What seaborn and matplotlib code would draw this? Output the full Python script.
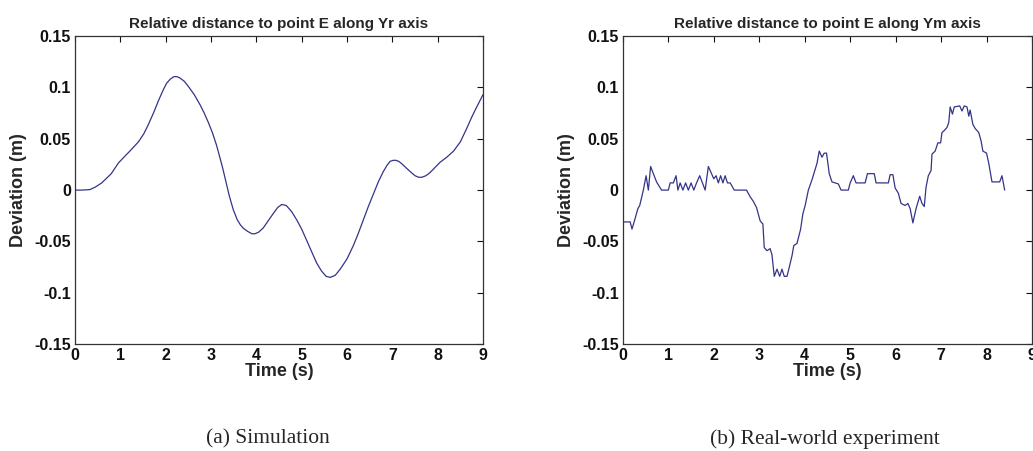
import matplotlib
matplotlib.use("Agg")
import matplotlib.pyplot as plt
import seaborn as sns
import pandas as pd

sns.set_style("white")
plt.rcParams['font.family'] = ['Liberation Sans', 'DejaVu Sans']

# ---- data ----
# (a) simulation: smooth curve
sim_t = [0.0, 0.15, 0.33, 0.45, 0.59, 0.8, 0.96, 1.10, 1.21, 1.40, 1.52, 1.62, 1.74,
         1.84, 1.94, 2.02, 2.10, 2.18, 2.25, 2.32, 2.41, 2.50, 2.63, 2.76, 2.85, 2.94,
         3.03, 3.12, 3.20, 3.26, 3.33, 3.40, 3.49, 3.58, 3.65, 3.71, 3.80, 3.90, 3.97,
         4.05, 4.15, 4.26, 4.37, 4.47, 4.56, 4.66, 4.78, 4.89, 5.00, 5.11, 5.22, 5.33,
         5.44, 5.54, 5.63, 5.74, 5.85, 6.00, 6.14, 6.25, 6.36, 6.47, 6.58, 6.69, 6.80,
         6.88, 6.95, 7.02, 7.08, 7.14, 7.20, 7.32, 7.42, 7.50, 7.58, 7.65, 7.74, 7.83,
         7.94, 8.05, 8.20, 8.35, 8.50, 8.64, 8.75, 8.85, 9.0]
sim_dev = [0.0, 0.0, 0.0005, 0.003, 0.007, 0.016, 0.0265, 0.033, 0.038, 0.047, 0.055,
           0.064, 0.076, 0.087, 0.097, 0.104, 0.108, 0.1105, 0.1105, 0.109, 0.106, 0.101,
           0.093, 0.083, 0.075, 0.066, 0.056, 0.044, 0.031, 0.021, 0.008, -0.005, -0.019,
           -0.029, -0.034, -0.037, -0.040, -0.0425, -0.0425, -0.041, -0.037, -0.030,
           -0.023, -0.017, -0.014, -0.015, -0.021, -0.029, -0.038, -0.049, -0.060,
           -0.071, -0.079, -0.084, -0.085, -0.083, -0.077, -0.067, -0.054, -0.042,
           -0.029, -0.016, -0.004, 0.008, 0.018, 0.024, 0.028, 0.029, 0.029, 0.028, 0.026,
           0.021, 0.017, 0.014, 0.0125, 0.0125, 0.014, 0.017, 0.022, 0.027, 0.032, 0.038,
           0.047, 0.060, 0.071, 0.080, 0.093]

# (b) real-world experiment: noisy, quantised signal
exp_t = [0.00, 0.16, 0.20, 0.26, 0.33, 0.37, 0.45, 0.51, 0.56, 0.61, 0.67, 0.74, 0.85,
         1.00, 1.04, 1.11, 1.17, 1.21, 1.26, 1.32, 1.38, 1.44, 1.50, 1.56, 1.62, 1.69,
         1.75, 1.81, 1.88, 1.95, 2.00, 2.05, 2.10, 2.15, 2.20, 2.25, 2.30, 2.36, 2.45,
         2.72, 2.80, 2.87, 2.94, 3.02, 3.08, 3.11, 3.17, 3.24, 3.28, 3.33, 3.39, 3.45,
         3.50, 3.55, 3.61, 3.65, 3.72, 3.76, 3.83, 3.91, 3.96, 4.01, 4.08, 4.16, 4.27,
         4.32, 4.38, 4.43, 4.48, 4.54, 4.60, 4.74, 4.80, 4.96, 5.00, 5.07, 5.13, 5.33,
         5.38, 5.53, 5.57, 5.84, 5.88, 5.94, 5.99, 6.06, 6.12, 6.21, 6.27, 6.32, 6.38,
         6.45, 6.53, 6.58, 6.63, 6.67, 6.72, 6.78, 6.80, 6.87, 6.93, 6.99, 7.02, 7.07,
         7.13, 7.17, 7.20, 7.25, 7.29, 7.41, 7.46, 7.51, 7.57, 7.61, 7.64, 7.70, 7.75,
         7.83, 7.88, 7.92, 8.00, 8.05, 8.12, 8.29, 8.34, 8.40]
exp_dev = [-0.031, -0.031, -0.038, -0.029, -0.018, -0.015, 0.0, 0.014, 0.0, 0.023, 0.016,
           0.008, 0.0, 0.0, 0.007, 0.007, 0.014, 0.0, 0.007, 0.0, 0.007, 0.0, 0.007, 0.0,
           0.007, 0.014, 0.007, 0.0, 0.023, 0.016, 0.011, 0.014, 0.007, 0.014, 0.007,
           0.014, 0.007, 0.007, 0.0, 0.0, -0.0065, -0.011, -0.017, -0.030, -0.033, -0.056,
           -0.059, -0.057, -0.063, -0.084, -0.077, -0.084, -0.077, -0.084, -0.084, -0.077,
           -0.064, -0.054, -0.052, -0.038, -0.023, -0.015, 0.0, 0.010, 0.026, 0.038, 0.032,
           0.036, 0.036, 0.016, 0.008, 0.006, 0.0, 0.0, 0.007, 0.014, 0.007, 0.007, 0.016,
           0.016, 0.007, 0.007, 0.015, 0.015, 0.002, -0.003, -0.013, -0.015, -0.013,
           -0.018, -0.032, -0.018, -0.006, -0.013, -0.016, 0.003, 0.014, 0.019, 0.035,
           0.038, 0.046, 0.046, 0.056, 0.058, 0.061, 0.066, 0.081, 0.074, 0.081, 0.082,
           0.077, 0.082, 0.081, 0.072, 0.078, 0.064, 0.060, 0.056, 0.048, 0.038, 0.036,
           0.026, 0.008, 0.008, 0.014, 0.0]

titles = ['Relative distance to point E along Yr axis',
          'Relative distance to point E along Ym axis']
captions = ['(a) Simulation', '(b) Real-world experiment']
xticks = [0, 1, 2, 3, 4, 5, 6, 7, 8, 9]
yticks = [0.15, 0.1, 0.05, 0, -0.05, -0.1, -0.15]
ytick_labels = ['0.15', '0.1', '0.05', '0', '-0.05', '-0.1', '-0.15']

sim = pd.DataFrame({'t': sim_t, 'dev': sim_dev})
exp = pd.DataFrame({'t': exp_t, 'dev': exp_dev})

fig = plt.figure(figsize=(10.33, 4.51), dpi=100)
ax1 = fig.add_axes([0.0726, 0.237, 0.395, 0.683])
ax2 = fig.add_axes([0.603, 0.237, 0.396, 0.683])

line_col = '#343488'
cap_x = [0.259, 0.799]
for ax, df, title, cap, cx in zip([ax1, ax2], [sim, exp], titles, captions, cap_x):
    sns.lineplot(data=df, x='t', y='dev', ax=ax, color=line_col, linewidth=0.9,
                 estimator=None, sort=False)
    ax.set_xlim(0, 9)
    ax.set_ylim(-0.15, 0.15)
    ax.set_xticks(xticks)
    ax.set_yticks(yticks, labels=ytick_labels)
    ax.tick_params(direction='in', length=4, width=0.8, top=True, right=True,
                   labelsize=11.5, pad=3, colors='#111111')
    for lab in ax.get_xticklabels() + ax.get_yticklabels():
        lab.set_fontweight('bold')
    for sp in ax.spines.values():
        sp.set_linewidth(0.9)
        sp.set_color('#333333')
    ax.set_title(title, fontsize=11, fontweight='bold', pad=6)
    ax.set_xlabel('Time (s)', fontsize=13, fontweight='bold', labelpad=0)
    ax.set_ylabel('Deviation (m)', fontsize=13, fontweight='bold', labelpad=5)
    fig.text(cx, 0.027, cap, ha='center', va='center',
             fontsize=15.5, family=['Liberation Serif', 'DejaVu Serif'])

fig.savefig('out.png', dpi=100)
